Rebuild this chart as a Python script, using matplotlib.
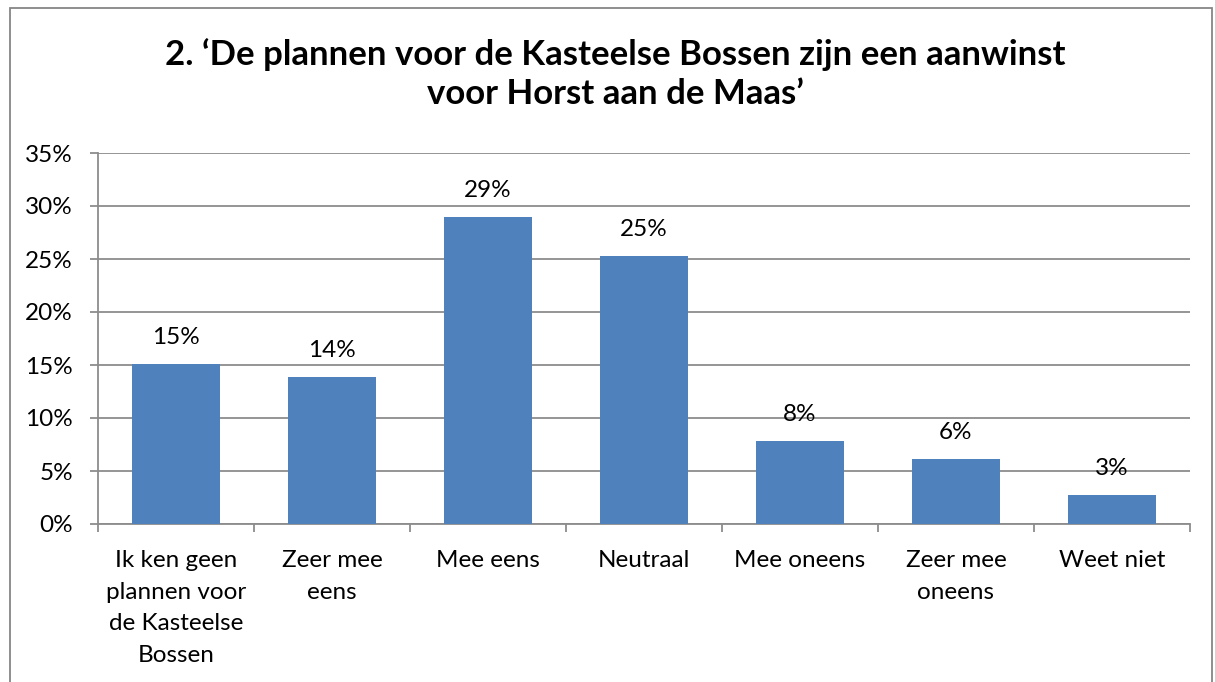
import matplotlib
matplotlib.use("Agg")
import matplotlib.pyplot as plt
from matplotlib.patches import Rectangle
import numpy as np

categories = ["Ik ken geen\nplannen voor\nde Kasteelse\nBossen", "Zeer mee\neens", "Mee eens",
              "Neutraal", "Mee oneens", "Zeer mee\noneens", "Weet niet"]
values = [15.1, 13.9, 29.0, 25.3, 7.8, 6.1, 2.7]
labels = ["15%", "14%", "29%", "25%", "8%", "6%", "3%"]
yticks = [0, 5, 10, 15, 20, 25, 30, 35]
title = "2. \u2018De plannen voor de Kasteelse Bossen zijn een aanwinst\nvoor Horst aan de Maas\u2019"

W, H = 1215, 682
fig = plt.figure(figsize=(W/100, H/100), dpi=100)
fam = ["Lato", "DejaVu Sans"]
plt.rcParams['font.family'] = fam
FS = 17.5

# outer border
fig.add_artist(Rectangle((10/W, -0.01), (1212-10)/W, (H-8)/H + 0.01, transform=fig.transFigure,
                         fill=False, edgecolor="#868686", linewidth=1.3, clip_on=False))

ax = fig.add_axes([98/W, (H-524)/H, (1190-98)/W, (524-153)/H])
x = np.arange(len(categories))
ax.bar(x, values, width=0.57, color="#4F81BD", zorder=3)
for xi, v, lab in zip(x, values, labels):
    ax.annotate(lab, (xi, v), xytext=(0, 19), textcoords="offset points", ha="center",
                va="center", fontsize=FS, color="#000000", zorder=4)

ax.set_xlim(-0.5, len(categories) - 0.5)
ax.set_ylim(0, 35)
ax.set_yticks(yticks)
ax.set_yticklabels([f"{t}%" for t in yticks], fontsize=FS)
ax.yaxis.grid(True, color="#8C8C8C", linewidth=1.3, zorder=0)
ax.tick_params(axis="y", length=6, width=1.3, color="#8C8C8C", pad=12)

ax.set_xticks(x)
ax.set_xticklabels(categories, fontsize=FS, linespacing=1.62, va="top")
ax.set_xticks(np.arange(len(categories) + 1) - 0.5, minor=True)
ax.tick_params(axis="x", which="major", length=0, pad=19)
ax.tick_params(axis="x", which="minor", length=6, width=1.3, color="#8C8C8C")

for s in ["top", "right"]:
    ax.spines[s].set_visible(False)
for s in ["left", "bottom"]:
    ax.spines[s].set_color("#8C8C8C")
    ax.spines[s].set_linewidth(1.3)

fig.text(615/W, 1 - 74/H, title, ha="center", va="center", fontsize=25, fontweight="bold",
         linespacing=1.28)

fig.savefig("out.png", dpi=100)
